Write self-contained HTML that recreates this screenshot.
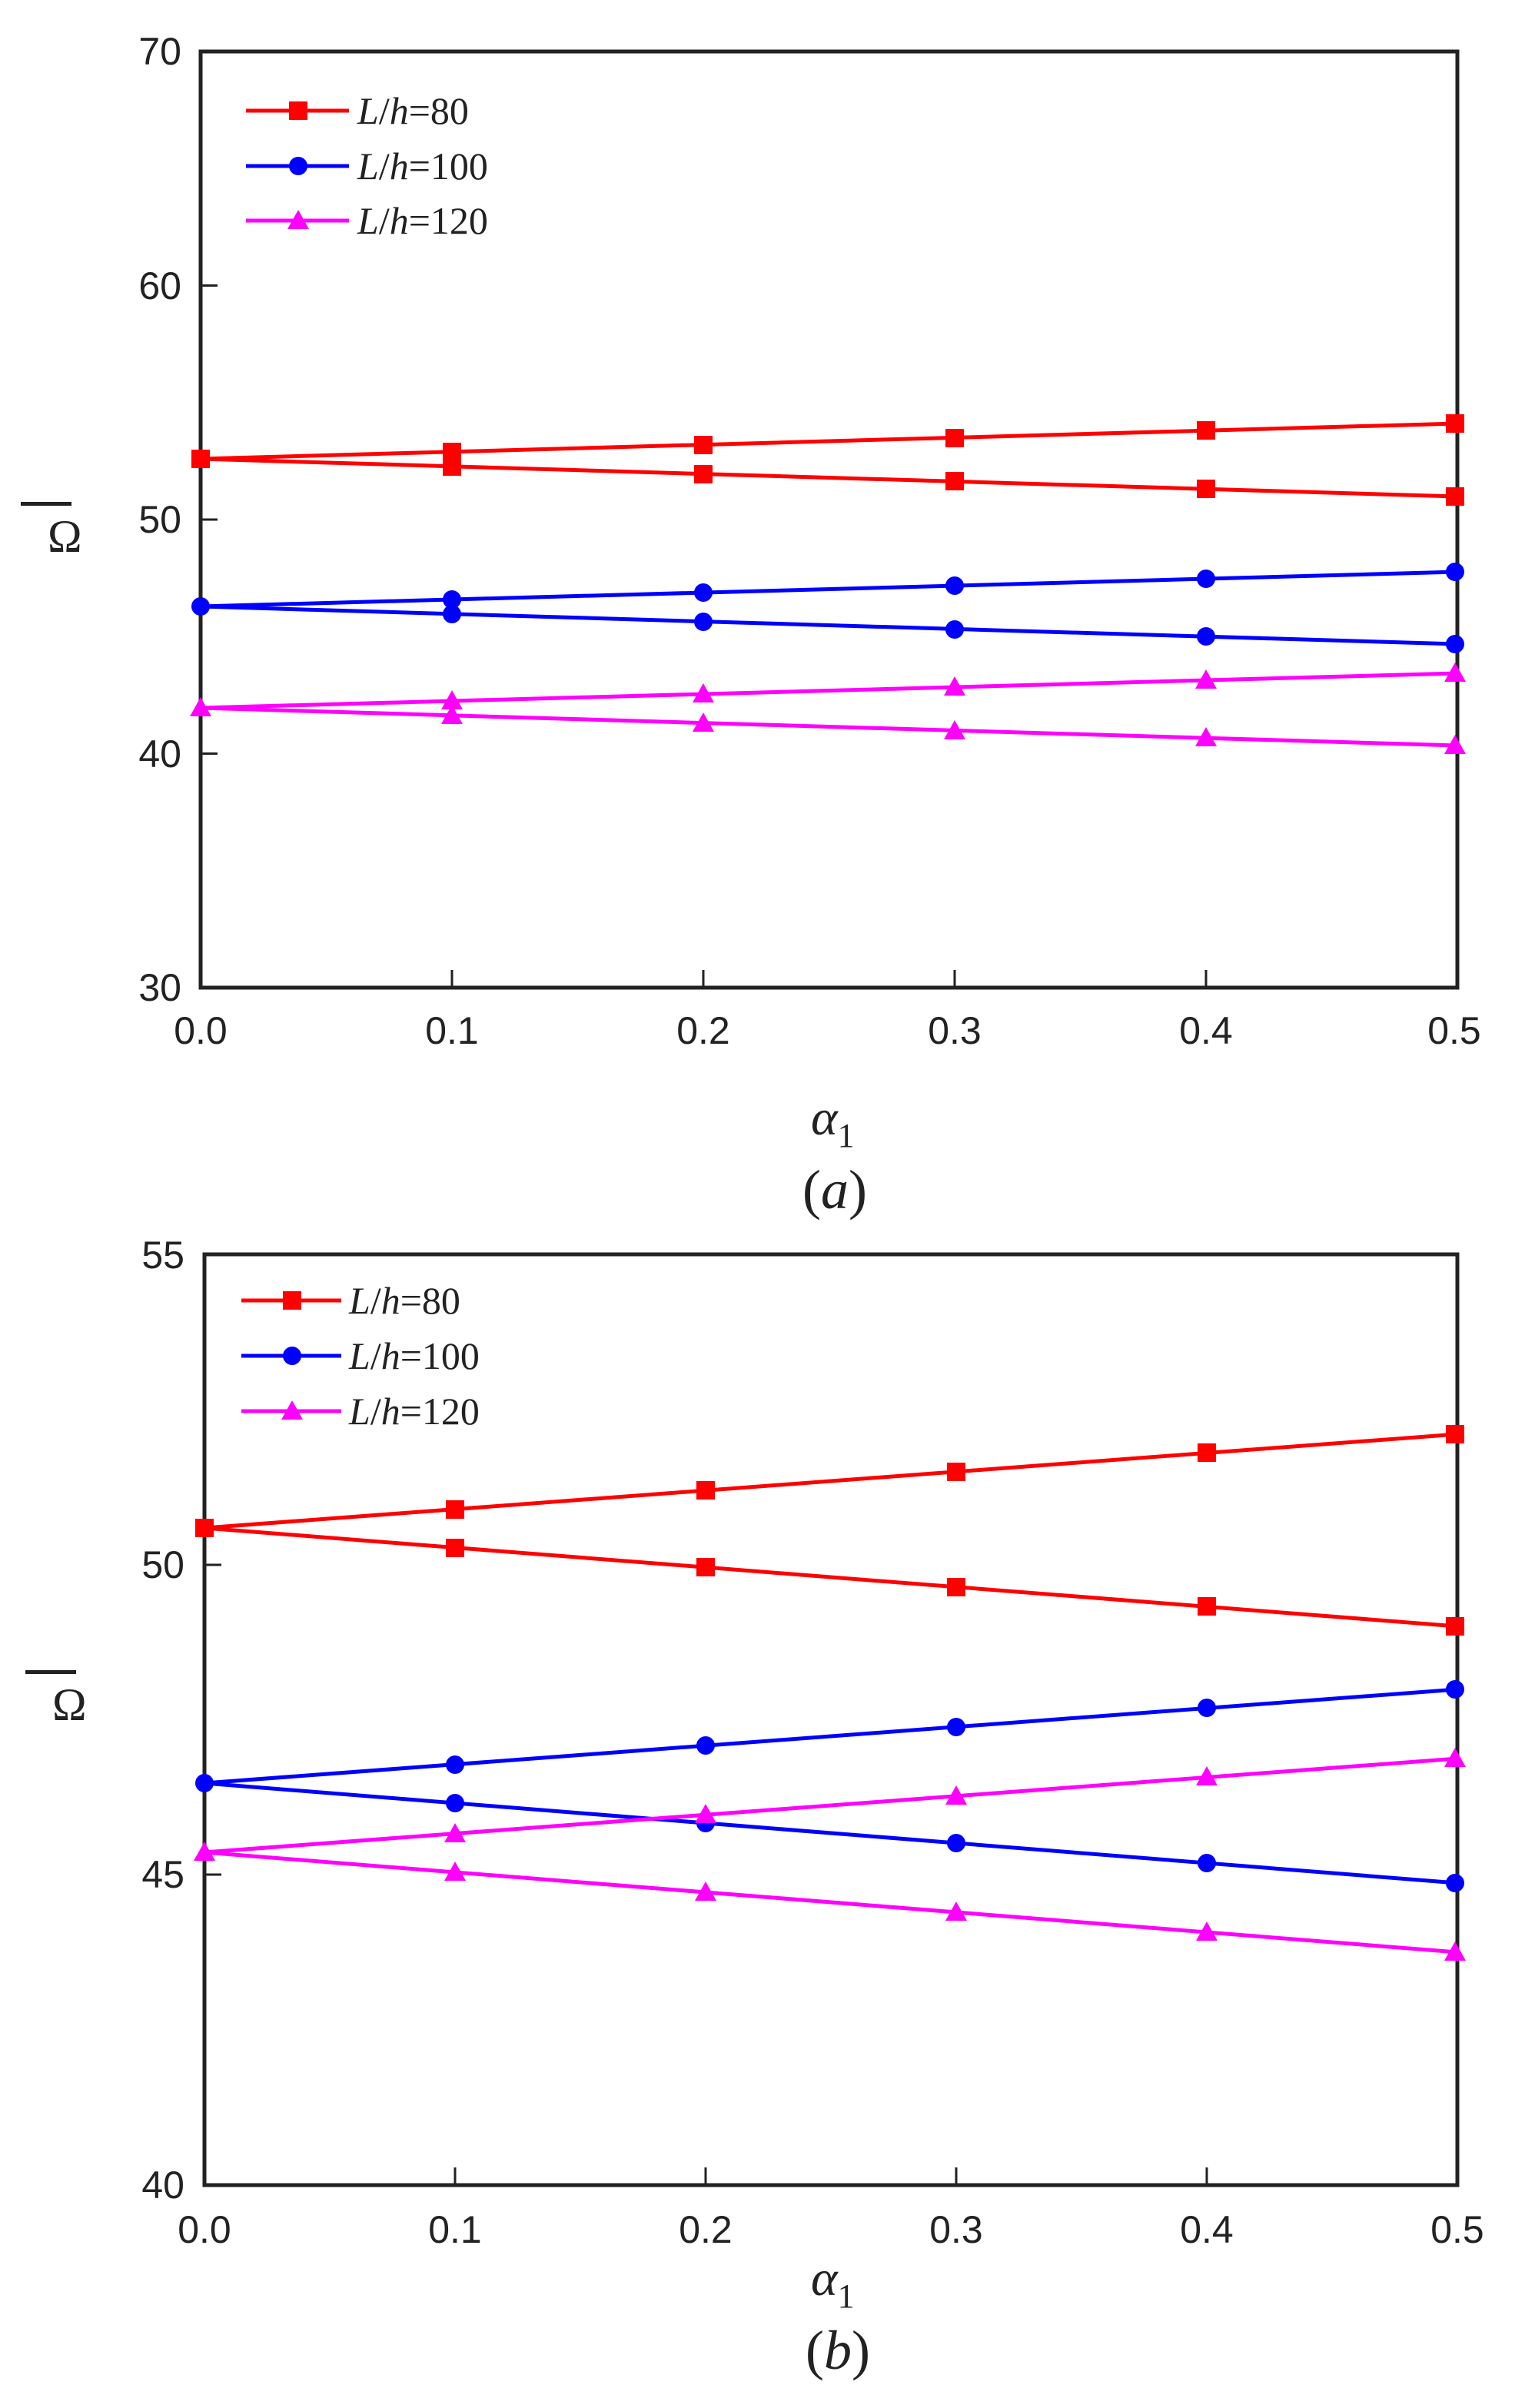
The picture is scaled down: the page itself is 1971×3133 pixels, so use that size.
<!DOCTYPE html>
<html><head><meta charset="utf-8"><style>html,body{margin:0;padding:0;background:#fff}svg{display:block}</style></head>
<body>
<svg width="1971" height="3133" viewBox="0 0 1971 3133" xmlns="http://www.w3.org/2000/svg" font-family="Liberation Sans, sans-serif">
<defs>
<g id="sq"><rect x="-12" y="-12" width="24" height="24" fill="#f00"/></g>
<g id="ci"><ellipse cx="0" cy="0" rx="12" ry="12" fill="#00f"/></g>
<g id="tr"><polygon points="0,-14 14,11 -14,11" fill="#f0f"/></g>
</defs>
<g>
<rect x="261" y="67" width="1635" height="1218" fill="none" stroke="#222" stroke-width="5"/>
<g stroke="#222" stroke-width="3">
<line x1="261" y1="371.5" x2="283" y2="371.5"/><line x1="261" y1="676" x2="283" y2="676"/><line x1="261" y1="980.5" x2="283" y2="980.5"/>
<line x1="588" y1="1285" x2="588" y2="1262"/><line x1="915" y1="1285" x2="915" y2="1262"/><line x1="1242" y1="1285" x2="1242" y2="1262"/><line x1="1569" y1="1285" x2="1569" y2="1262"/>
</g>
<g font-size="50" fill="#222" text-anchor="end">
<text x="236" y="84">70</text><text x="236" y="389">60</text><text x="236" y="693">50</text><text x="236" y="998">40</text><text x="236" y="1302">30</text>
</g>
<g font-size="50" fill="#222" text-anchor="middle">
<text x="261" y="1358">0.0</text><text x="588" y="1358">0.1</text><text x="915" y="1358">0.2</text><text x="1242" y="1358">0.3</text><text x="1569" y="1358">0.4</text><text x="1892" y="1358">0.5</text>
</g>
<text x="62" y="718" font-size="60" fill="#222" font-family="Liberation Serif, serif">Ω</text>
<rect x="27" y="653" width="66" height="5" fill="#222"/>
<text x="1055" y="1476" font-size="66" fill="#222" font-family="Liberation Serif, serif" font-style="italic">α<tspan font-size="44" dy="16" font-style="normal">1</tspan></text>
<text x="1086" y="1572" font-size="72" fill="#222" font-family="Liberation Serif, serif" text-anchor="middle">(<tspan font-style="italic">a</tspan>)</text>
<g fill="none" stroke-width="5">
<polyline stroke="#f00" points="261,597 1896,551"/><polyline stroke="#f00" points="261,597 1896,646"/>
<polyline stroke="#00f" points="261,789 1896,744"/><polyline stroke="#00f" points="261,789 1896,838"/>
<polyline stroke="#f0f" points="261,921 1896,876"/><polyline stroke="#f0f" points="261,921 1896,970"/>
</g>
<use href="#sq" x="261" y="597"/><use href="#sq" x="588" y="588"/><use href="#sq" x="915" y="579"/><use href="#sq" x="1242" y="570"/><use href="#sq" x="1569" y="560"/><use href="#sq" x="1893" y="551"/>
<use href="#sq" x="588" y="607"/><use href="#sq" x="915" y="617"/><use href="#sq" x="1242" y="626"/><use href="#sq" x="1569" y="636"/><use href="#sq" x="1893" y="646"/>
<use href="#ci" x="261" y="789"/><use href="#ci" x="588" y="780"/><use href="#ci" x="915" y="771"/><use href="#ci" x="1242" y="762"/><use href="#ci" x="1569" y="753"/><use href="#ci" x="1893" y="744"/>
<use href="#ci" x="588" y="799"/><use href="#ci" x="915" y="809"/><use href="#ci" x="1242" y="819"/><use href="#ci" x="1569" y="828"/><use href="#ci" x="1893" y="838"/>
<use href="#tr" x="261" y="921"/><use href="#tr" x="588" y="912"/><use href="#tr" x="915" y="903"/><use href="#tr" x="1242" y="894"/><use href="#tr" x="1569" y="885"/><use href="#tr" x="1893" y="876"/>
<use href="#tr" x="588" y="931"/><use href="#tr" x="915" y="941"/><use href="#tr" x="1242" y="951"/><use href="#tr" x="1569" y="960"/><use href="#tr" x="1893" y="970"/>
<g stroke-width="5"><line x1="320" y1="144" x2="454" y2="144" stroke="#f00"/><line x1="320" y1="216" x2="454" y2="216" stroke="#00f"/><line x1="320" y1="287" x2="454" y2="287" stroke="#f0f"/></g>
<use href="#sq" x="388" y="144"/><use href="#ci" x="388" y="216"/><use href="#tr" x="388" y="287"/>
<g font-size="50" fill="#222" font-family="Liberation Serif, serif">
<text x="465" y="161"><tspan font-style="italic">L</tspan>/<tspan font-style="italic">h</tspan>=80</text>
<text x="465" y="233"><tspan font-style="italic">L</tspan>/<tspan font-style="italic">h</tspan>=100</text>
<text x="465" y="304"><tspan font-style="italic">L</tspan>/<tspan font-style="italic">h</tspan>=120</text>
</g>
</g>
<g>
<rect x="266" y="1632" width="1630" height="1211" fill="none" stroke="#222" stroke-width="5"/>
<g stroke="#222" stroke-width="3">
<line x1="266" y1="2036" x2="288" y2="2036"/><line x1="266" y1="2439" x2="288" y2="2439"/>
<line x1="592" y1="2843" x2="592" y2="2820"/><line x1="918" y1="2843" x2="918" y2="2820"/><line x1="1244" y1="2843" x2="1244" y2="2820"/><line x1="1570" y1="2843" x2="1570" y2="2820"/>
</g>
<g font-size="50" fill="#222" text-anchor="end">
<text x="240" y="1650">55</text><text x="240" y="2053">50</text><text x="240" y="2456">45</text><text x="240" y="2860">40</text>
</g>
<g font-size="50" fill="#222" text-anchor="middle">
<text x="266" y="2918">0.0</text><text x="592" y="2918">0.1</text><text x="918" y="2918">0.2</text><text x="1244" y="2918">0.3</text><text x="1570" y="2918">0.4</text><text x="1896" y="2918">0.5</text>
</g>
<text x="68" y="2238" font-size="60" fill="#222" font-family="Liberation Serif, serif">Ω</text>
<rect x="33" y="2173" width="66" height="5" fill="#222"/>
<text x="1055" y="2986" font-size="66" fill="#222" font-family="Liberation Serif, serif" font-style="italic">α<tspan font-size="44" dy="16" font-style="normal">1</tspan></text>
<text x="1090" y="3082" font-size="72" fill="#222" font-family="Liberation Serif, serif" text-anchor="middle">(<tspan font-style="italic">b</tspan>)</text>
<g fill="none" stroke-width="5">
<polyline stroke="#f00" points="266,1988 1896,1866"/><polyline stroke="#f00" points="266,1988 1896,2116"/>
<polyline stroke="#00f" points="266,2320 1896,2198"/><polyline stroke="#00f" points="266,2320 1896,2450"/>
<polyline stroke="#f0f" points="266,2410 1896,2288"/><polyline stroke="#f0f" points="266,2410 1896,2540"/>
</g>
<use href="#sq" x="266" y="1988"/><use href="#sq" x="592" y="1964"/><use href="#sq" x="918" y="1939"/><use href="#sq" x="1244" y="1915"/><use href="#sq" x="1570" y="1890"/><use href="#sq" x="1893" y="1866"/>
<use href="#sq" x="592" y="2014"/><use href="#sq" x="918" y="2039"/><use href="#sq" x="1244" y="2065"/><use href="#sq" x="1570" y="2090"/><use href="#sq" x="1893" y="2116"/>
<use href="#ci" x="266" y="2320"/><use href="#ci" x="592" y="2296"/><use href="#ci" x="918" y="2271"/><use href="#ci" x="1244" y="2247"/><use href="#ci" x="1570" y="2222"/><use href="#ci" x="1893" y="2198"/>
<use href="#ci" x="592" y="2346"/><use href="#ci" x="918" y="2372"/><use href="#ci" x="1244" y="2398"/><use href="#ci" x="1570" y="2424"/><use href="#ci" x="1893" y="2450"/>
<use href="#tr" x="266" y="2410"/><use href="#tr" x="592" y="2386"/><use href="#tr" x="918" y="2361"/><use href="#tr" x="1244" y="2337"/><use href="#tr" x="1570" y="2312"/><use href="#tr" x="1893" y="2288"/>
<use href="#tr" x="592" y="2436"/><use href="#tr" x="918" y="2462"/><use href="#tr" x="1244" y="2488"/><use href="#tr" x="1570" y="2514"/><use href="#tr" x="1893" y="2540"/>
<g stroke-width="5"><line x1="314" y1="1692" x2="444" y2="1692" stroke="#f00"/><line x1="314" y1="1764" x2="444" y2="1764" stroke="#00f"/><line x1="314" y1="1836" x2="444" y2="1836" stroke="#f0f"/></g>
<use href="#sq" x="380" y="1692"/><use href="#ci" x="380" y="1764"/><use href="#tr" x="380" y="1836"/>
<g font-size="50" fill="#222" font-family="Liberation Serif, serif">
<text x="454" y="1709"><tspan font-style="italic">L</tspan>/<tspan font-style="italic">h</tspan>=80</text>
<text x="454" y="1781"><tspan font-style="italic">L</tspan>/<tspan font-style="italic">h</tspan>=100</text>
<text x="454" y="1853"><tspan font-style="italic">L</tspan>/<tspan font-style="italic">h</tspan>=120</text>
</g>
</g>
</svg>
</body></html>
